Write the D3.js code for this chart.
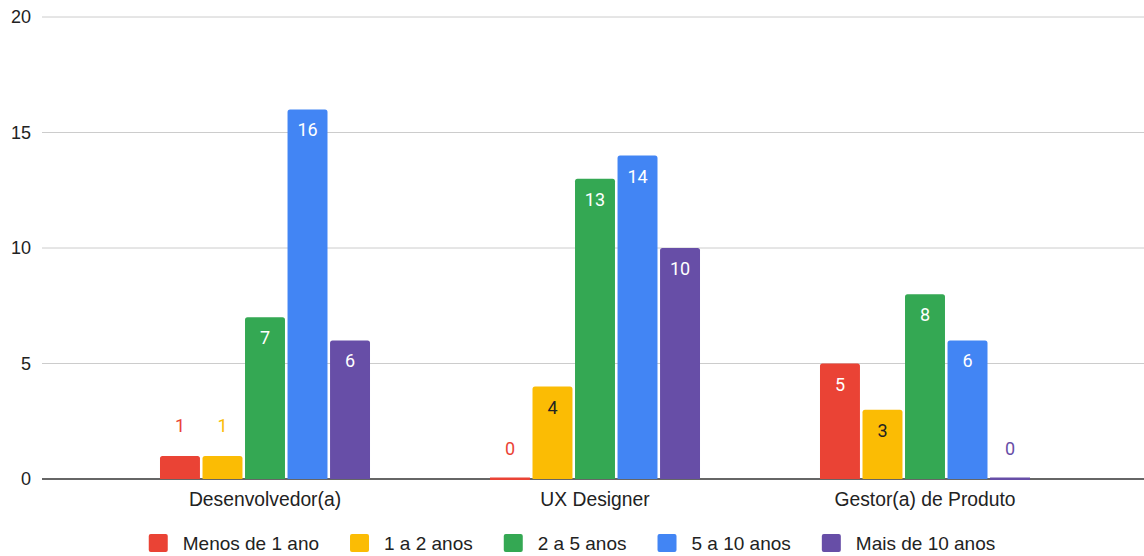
<!DOCTYPE html>
<html>
<head>
<meta charset="utf-8">
<script src="https://cdn.jsdelivr.net/npm/d3@7"></script>
<style>
    body { margin: 0; background: #fff; }
    svg { display: block; font-family: Arial, "Liberation Sans", sans-serif; }
</style>
</head>
<body>
<div id="chart"></div>
<script>
const categories = ['Desenvolvedor(a)', 'UX Designer', 'Gestor(a) de Produto'];
const seriesNames = ['Menos de 1 ano', '1 a 2 anos', '2 a 5 anos', '5 a 10 anos', 'Mais de 10 anos'];
const seriesColors = ['#ea4335', '#fbbc04', '#34a853', '#4285f4', '#674ea7'];
const labelColorsInside = ['#fff', '#222', '#fff', '#fff', '#fff'];
const menosDe1 = [1, 0, 5];
const de1a2 = [1, 4, 3];
const de2a5 = [7, 13, 8];
const de5a10 = [16, 14, 6];
const maisDe10 = [6, 10, 0];
const yTicks = [0, 5, 10, 15, 20];

const seriesValues = [menosDe1, de1a2, de2a5, de5a10, maisDe10];

const width = 1144, height = 556;
const svg = d3.select('#chart').append('svg')
    .attr('width', width)
    .attr('height', height);

const y = d3.scaleLinear().domain([0, 20]).range([479, 17]);
const x0 = d3.scaleBand().domain(categories).range([100, 1090])
    .paddingInner(0.3636).paddingOuter(0.1818);
const x1 = d3.scaleBand().domain(d3.range(seriesNames.length))
    .range([0, x0.bandwidth()]).paddingInner(0.06);

// gridlines
svg.append('g').selectAll('line')
    .data(yTicks.filter(d => d > 0))
    .join('line')
    .attr('x1', 42).attr('x2', width)
    .attr('y1', d => y(d)).attr('y2', d => y(d))
    .attr('stroke', '#cccccc');

// y labels
svg.append('g').selectAll('text')
    .data(yTicks)
    .join('text')
    .attr('x', 31)
    .attr('y', d => y(d))
    .attr('dy', '0.35em')
    .attr('text-anchor', 'end')
    .attr('font-size', 18)
    .attr('fill', '#222')
    .text(d => d);

// baseline
svg.append('line')
    .attr('x1', 42).attr('x2', width)
    .attr('y1', y(0)).attr('y2', y(0))
    .attr('stroke', '#333').attr('stroke-width', 1.3);

// bars
const groups = svg.append('g').selectAll('g')
    .data(categories)
    .join('g')
    .attr('transform', d => `translate(${x0(d)},0)`);

const r = 2.5;
function barPath(x, w, top, bottom) {
    const h = bottom - top;
    if (h < r * 2) return `M${x},${bottom}V${top}H${x + w}V${bottom}Z`;
    return `M${x},${bottom}V${top + r}Q${x},${top} ${x + r},${top}H${x + w - r}Q${x + w},${top} ${x + w},${top + r}V${bottom}Z`;
}

groups.each(function (cat, ci) {
    const g = d3.select(this);
    seriesValues.forEach((vals, si) => {
        const v = vals[ci];
        const bx = x1(si), bw = x1.bandwidth();
        const top = v === 0 ? y(0) - 1.5 : y(v);
        const bottom = v === 0 ? y(0) + 1 : y(0);
        g.append('path')
            .attr('d', barPath(bx, bw, top, bottom))
            .attr('fill', seriesColors[si]);
        const inside = v >= 3;
        g.append('text')
            .attr('x', bx + bw / 2)
            .attr('y', inside ? y(v) + 27 : y(v) - 24)
            .attr('text-anchor', 'middle')
            .attr('font-family', 'Roboto, Arial, sans-serif')
            .attr('font-size', 18)
            .attr('fill', inside ? labelColorsInside[si] : seriesColors[si])
            .text(v);
    });
});

// x labels
svg.append('g').selectAll('text')
    .data(categories)
    .join('text')
    .attr('x', d => x0(d) + x0.bandwidth() / 2)
    .attr('y', 506)
    .attr('text-anchor', 'middle')
    .attr('font-size', 19.3)
    .attr('fill', '#222')
    .text(d => d);

// legend
const legend = svg.append('g');
const items = legend.selectAll('g')
    .data(seriesNames)
    .join('g');
items.append('rect')
    .attr('x', 0).attr('y', -9)
    .attr('width', 19).attr('height', 18)
    .attr('rx', 2)
    .attr('fill', (d, i) => seriesColors[i]);
items.append('text')
    .attr('x', 34)
    .attr('y', 0)
    .attr('dy', '0.35em')
    .attr('font-size', 19)
    .attr('fill', '#222')
    .text(d => d);
let pos = 0;
items.each(function () {
    const box = this.getBBox();
    d3.select(this).attr('transform', `translate(${pos},0)`);
    pos += box.width + 31;
});
const legendWidth = pos - 31;
legend.attr('transform', `translate(${(width - legendWidth) / 2},543)`);
</script>
</body>
</html>
